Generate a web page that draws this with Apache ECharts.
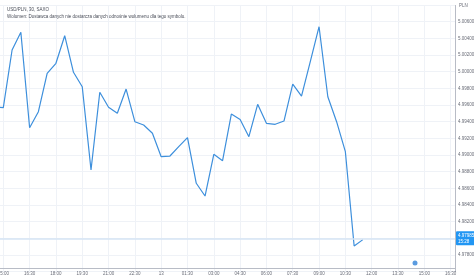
<!DOCTYPE html>
<html>
<head>
<meta charset="utf-8">
<script src="https://cdn.jsdelivr.net/npm/echarts@6/dist/echarts.min.js"></script>
<style>
html,body{margin:0;padding:0;background:#fff;}
#c{width:474px;height:279px;}
</style>
</head>
<body>
<div id="c"></div>
<script>
// 30-minute bars, first bar (index -1) = 14:30, index 0 = 15:00
const times = ['14:30','15:00','15:30','16:00','16:30','17:00','17:30','18:00','18:30','19:00','19:30','20:00','20:30','21:00','21:30','22:00','22:30','23:00','23:30','00:00','00:30','01:00','01:30','02:00','02:30','03:00','03:30','04:00','04:30','05:00','05:30','06:00','06:30','07:00','07:30','08:00','08:30','09:00','09:30','10:00','10:30','11:00','11:30'];
const prices = [4.99576,4.99568,5.00260,5.00473,4.99328,4.99520,4.99981,5.00101,5.00432,4.99993,4.99820,4.98820,4.99753,4.99573,4.99501,4.99792,4.99400,4.99360,4.99261,4.98980,4.98988,4.99100,4.99208,4.98661,4.98508,4.99009,4.98932,4.99492,4.99426,4.99220,4.99609,4.99381,4.99369,4.99408,4.99852,4.99708,5.00120,5.00540,4.99700,4.99400,4.99040,4.97908,4.97985];
const xTickLabels = ['13:30','15:00','16:30','18:00','19:30','21:00','22:30','13','01:30','03:00','04:30','06:00','07:30','09:00','10:30','12:00','13:30','15:00','16:30'];
const lastPrice = 4.97985;
const countdown = '15:28';
const titleText = 'USD/PLN, 30, SAXO';
const volumeText = 'Wolumen: Dostawca danych nie dostarcza danych odnośnie wolumenu dla tego symbolu.';
const currency = 'PLN';

const firstIndex = -1;
const seriesData = prices.map((p, i) => [i + firstIndex, p]);

const chart = echarts.init(document.getElementById('c'), null, {renderer: 'canvas'});
const font = 'Liberation Sans';
chart.setOption({
  animation: false,
  backgroundColor: '#ffffff',
  textStyle: {fontFamily: font},
  title: {
    text: titleText,
    subtext: volumeText,
    left: 2, top: 2,
    itemGap: 2,
    textStyle: {fontSize: 4.5, color: '#4a4e59', fontWeight: 'normal', fontFamily: font},
    subtextStyle: {fontSize: 4.5, color: '#4a4e59', fontFamily: font}
  },
  grid: {left: -23.0, right: 19, top: 5.45, bottom: 7.3, containLabel: false, outerBoundsMode: 'none'},
  xAxis: {
    type: 'value',
    min: -3, max: 51.5, interval: 3,
    offset: -3.7,
    axisLine: {show: true, onZero: false, lineStyle: {color: '#b8bcc6', width: 1}},
    axisTick: {show: false},
    axisLabel: {
      fontSize: 4.5, color: '#6a6d78', margin: 3,
      formatter: v => (Math.abs(v % 3) < 1e-6 ? (xTickLabels[Math.round((v + 3) / 3)] || '') : '')
    },
    splitLine: {show: true, lineStyle: {color: '#eff2f7', width: 1}}
  },
  yAxis: {
    type: 'value',
    position: 'right',
    min: 4.976, max: 5.00795, interval: 0.002,
    name: currency,
    nameLocation: 'end',
    nameGap: 0,
    nameTextStyle: {fontSize: 4.5, color: '#6a6d78', align: 'left', verticalAlign: 'middle', padding: [0,0,0,4]},
    axisLine: {show: true, onZero: false, lineStyle: {color: '#b8bcc6', width: 1}},
    axisTick: {show: false},
    axisLabel: {
      fontSize: 4.5, color: '#6a6d78', margin: 3,
      formatter: v => {
        const k = Math.round((v - 4.976) / 0.002);
        if (Math.abs(v - (4.976 + k * 0.002)) > 1e-7 || k === 0) return '';
        return v.toFixed(5);
      }
    },
    splitLine: {show: true, lineStyle: {color: '#eff2f7', width: 1}}
  },
  series: [{
    type: 'line',
    data: seriesData,
    showSymbol: false,
    symbol: 'none',
    lineStyle: {color: '#3d8fdc', width: 1.2},
    markLine: {
      silent: true,
      symbol: 'none',
      data: [{yAxis: lastPrice}],
      lineStyle: {color: '#d6e4f4', width: 1.6, type: 'solid'},
      label: {
        show: true,
        position: 'end',
        distance: 1,
        formatter: lastPrice.toFixed(5) + '\n' + countdown,
        backgroundColor: '#2196f3',
        color: '#ffffff',
        fontSize: 4.5,
        lineHeight: 6,
        padding: [1, 3, 1, 2],
        borderRadius: 1
      }
    }
  }],
  graphic: [{
    type: 'circle',
    shape: {cx: 415, cy: 263, r: 2.5},
    style: {fill: '#5a9be0'}
  }]
});
</script>
</body>
</html>
